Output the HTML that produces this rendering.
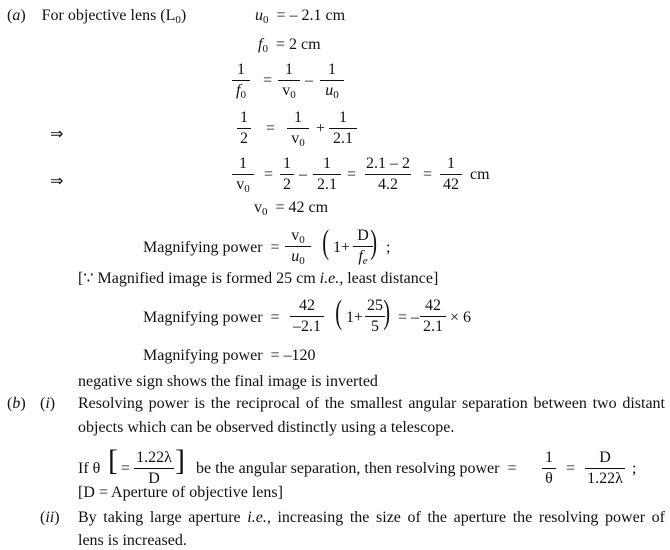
<!DOCTYPE html>
<html><head><meta charset="utf-8"><style>
body{margin:0;width:670px;height:550px;background:#fff;position:relative;overflow:hidden;font-family:"Liberation Serif",serif;font-size:16px;color:#111}
.a{position:absolute;white-space:nowrap;line-height:1}
.f{position:absolute;text-align:center;line-height:1}
.f .n{display:block;padding:0 1px 2px}
.f .d{display:block;border-top:1px solid #111;padding-top:2px}
sub{font-size:11px;vertical-align:-3px;line-height:0}
i{font-style:italic}
.j{position:absolute;left:78px;width:587px;text-align:justify;text-align-last:justify;line-height:1}
.big{font-size:34px;font-weight:100;transform:scaleX(.6);display:inline-block}
</style></head><body>
<div class="a" style="left:7px;top:8px">(<i>a</i>)&nbsp;&nbsp;&nbsp; For objective lens (L<sub>0</sub>)</div>
<div class="a" style="left:255px;top:8px"><i>u</i><sub>0</sub> &nbsp;= – 2.1 cm</div>
<div class="a" style="left:258px;top:37px"><i>f</i><sub>0</sub> &nbsp;= 2 cm</div>

<div class="f" style="left:232px;top:62px;width:18px"><span class="n">1</span><span class="d"><i>f</i><sub>0</sub></span></div>
<div class="a" style="left:263px;top:73px">=</div>
<div class="f" style="left:278px;top:62px;width:22px"><span class="n">1</span><span class="d">v<sub>0</sub></span></div>
<div class="a" style="left:305px;top:73px">–</div>
<div class="f" style="left:320px;top:62px;width:24px"><span class="n">1</span><span class="d"><i>u</i><sub>0</sub></span></div>

<div class="a" style="left:50px;top:127px">⇒</div>
<div class="f" style="left:237px;top:110px;width:14px"><span class="n">1</span><span class="d">2</span></div>
<div class="a" style="left:266px;top:121px">=</div>
<div class="f" style="left:287px;top:110px;width:22px"><span class="n">1</span><span class="d">v<sub>0</sub></span></div>
<div class="a" style="left:316px;top:121px">+</div>
<div class="f" style="left:329px;top:110px;width:28px"><span class="n">1</span><span class="d">2.1</span></div>

<div class="a" style="left:50px;top:174px">⇒</div>
<div class="f" style="left:232px;top:156px;width:22px"><span class="n">1</span><span class="d">v<sub>0</sub></span></div>
<div class="a" style="left:264px;top:167px">=</div>
<div class="f" style="left:280px;top:156px;width:14px"><span class="n">1</span><span class="d">2</span></div>
<div class="a" style="left:299px;top:167px">–</div>
<div class="f" style="left:313px;top:156px;width:28px"><span class="n">1</span><span class="d">2.1</span></div>
<div class="a" style="left:347px;top:167px">=</div>
<div class="f" style="left:365px;top:156px;width:46px"><span class="n">2.1 – 2</span><span class="d">4.2</span></div>
<div class="a" style="left:423px;top:167px">=</div>
<div class="f" style="left:440px;top:156px;width:22px"><span class="n">1</span><span class="d">42</span></div>
<div class="a" style="left:470px;top:167px">cm</div>

<div class="a" style="left:254px;top:200px">v<sub>0</sub> &nbsp;= 42 cm</div>

<div class="a" style="left:143px;top:240px">Magnifying power &nbsp;=</div>
<div class="f" style="left:285px;top:228px;width:26px"><span class="n">v<sub>0</sub></span><span class="d"><i>u</i><sub>0</sub></span></div>
<div class="a" style="left:320px;top:226px"><span class="big">(</span></div>
<div class="a" style="left:333px;top:240px">1+</div>
<div class="f" style="left:353px;top:228px;width:20px"><span class="n">D</span><span class="d"><i>f<sub>e</sub></i></span></div>
<div class="a" style="left:368px;top:226px"><span class="big">)</span></div>
<div class="a" style="left:386px;top:240px">;</div>

<div class="a" style="left:78px;top:271px">[∵ Magnified image is formed 25 cm <i>i.e.,</i> least distance]</div>

<div class="a" style="left:143px;top:310px">Magnifying power &nbsp;=</div>
<div class="f" style="left:290px;top:298px;width:34px"><span class="n">42</span><span class="d">–2.1</span></div>
<div class="a" style="left:333px;top:296px"><span class="big">(</span></div>
<div class="a" style="left:346px;top:310px">1+</div>
<div class="f" style="left:365px;top:298px;width:20px"><span class="n">25</span><span class="d">5</span></div>
<div class="a" style="left:381px;top:296px"><span class="big">)</span></div>
<div class="a" style="left:398px;top:310px">= –</div>
<div class="f" style="left:420px;top:298px;width:26px"><span class="n">42</span><span class="d">2.1</span></div>
<div class="a" style="left:450px;top:310px">× 6</div>

<div class="a" style="left:143px;top:348px">Magnifying power &nbsp;= –120</div>
<div class="a" style="left:78px;top:374px">negative sign shows the final image is inverted</div>

<div class="a" style="left:7px;top:396px">(<i>b</i>)</div>
<div class="a" style="left:40px;top:396px">(<i>i</i>)</div>
<div class="j" style="top:396px">Resolving power is the reciprocal of the smallest angular separation between two distant</div>
<div class="a" style="left:78px;top:420px">objects which can be observed distinctly using a telescope.</div>

<div class="a" style="left:78px;top:461px">If θ</div>
<div class="a" style="left:108px;top:446px"><span class="big" style="transform:none;font-size:30px">[</span></div>
<div class="a" style="left:121px;top:461px">=</div>
<div class="f" style="left:134px;top:450px;width:40px"><span class="n">1.22λ</span><span class="d">D</span></div>
<div class="a" style="left:175px;top:446px"><span class="big" style="transform:none;font-size:30px">]</span></div>
<div class="a" style="left:196px;top:461px">be the angular separation, then resolving power &nbsp;=</div>
<div class="f" style="left:542px;top:450px;width:14px"><span class="n">1</span><span class="d">θ</span></div>
<div class="a" style="left:566px;top:461px">=</div>
<div class="f" style="left:585px;top:450px;width:40px"><span class="n">D</span><span class="d">1.22λ</span></div>
<div class="a" style="left:632px;top:461px">;</div>
<div class="a" style="left:78px;top:485px">[D = Aperture of objective lens]</div>

<div class="a" style="left:40px;top:510px">(<i>ii</i>)</div>
<div class="j" style="top:510px">By taking large aperture <i>i.e.,</i> increasing the size of the aperture the resolving power of</div>
<div class="a" style="left:78px;top:533px">lens is increased.</div>
</body></html>
